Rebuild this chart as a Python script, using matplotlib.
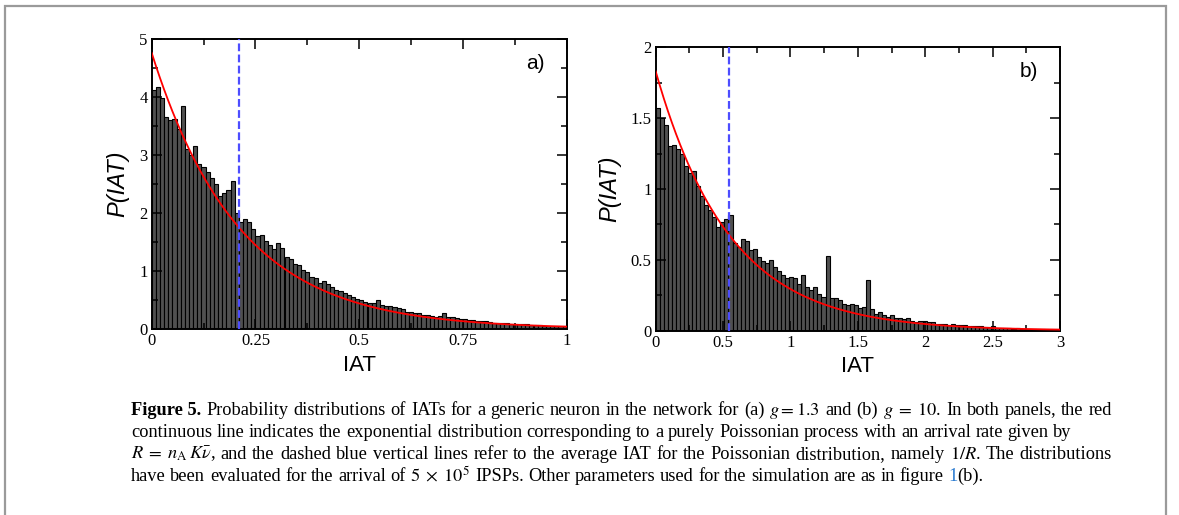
import numpy as np
import matplotlib
matplotlib.use('Agg')
import matplotlib.pyplot as plt
from matplotlib.ticker import MultipleLocator, FuncFormatter
from matplotlib.patches import Rectangle

plt.rcParams['font.family'] = ['Liberation Serif', 'DejaVu Serif']
plt.rcParams['mathtext.fontset'] = 'stix'

# panel a) g = 1.3 : histogram of IATs, bins of 0.01 on [0, 1]
bin_a = 0.01
p_a = [4.12, 4.17, 3.98, 3.65, 3.60, 3.62, 3.45, 3.85, 3.10, 3.00,
       3.15, 2.85, 2.80, 2.70, 2.60, 2.50, 2.30, 2.35, 2.40, 2.55,
       2.00, 1.85, 1.90, 1.85, 1.72, 1.60, 1.62, 1.52, 1.45, 1.38,
       1.48, 1.40, 1.25, 1.20, 1.12, 1.10, 1.02, 0.98, 0.90, 0.88,
       0.80, 0.82, 0.78, 0.72, 0.68, 0.66, 0.62, 0.58, 0.55, 0.52,
       0.50, 0.47, 0.45, 0.44, 0.50, 0.42, 0.40, 0.40, 0.38, 0.36,
       0.34, 0.30, 0.30, 0.28, 0.27, 0.25, 0.24, 0.22, 0.21, 0.22,
       0.27, 0.20, 0.20, 0.19, 0.18, 0.17, 0.16, 0.15, 0.14, 0.13,
       0.14, 0.12, 0.11, 0.11, 0.10, 0.10, 0.09, 0.09, 0.08, 0.08,
       0.09, 0.07, 0.07, 0.07, 0.06, 0.06, 0.06, 0.05, 0.05, 0.05]
rate_a = 4.76   # Poisson arrival rate R, mean IAT 1/R

# panel b) g = 10 : bins of 0.03 on [0, 3]
bin_b = 0.03
p_b = [1.57, 1.50, 1.45, 1.30, 1.31, 1.28, 1.25, 1.16, 1.11, 1.13,
       1.02, 0.95, 0.89, 0.85, 0.80, 0.73, 0.77, 0.79, 0.82, 0.62,
       0.59, 0.65, 0.63, 0.57, 0.58, 0.52, 0.49, 0.48, 0.50, 0.45,
       0.42, 0.39, 0.37, 0.38, 0.37, 0.33, 0.39, 0.31, 0.29, 0.31,
       0.26, 0.24, 0.53, 0.23, 0.23, 0.22, 0.19, 0.18, 0.19, 0.18,
       0.16, 0.17, 0.36, 0.15, 0.12, 0.13, 0.11, 0.10, 0.11, 0.09,
       0.09, 0.08, 0.09, 0.07, 0.06, 0.07, 0.07, 0.06, 0.06, 0.05,
       0.05, 0.05, 0.04, 0.05, 0.04, 0.04, 0.04, 0.035, 0.03, 0.03,
       0.03, 0.025, 0.025, 0.03, 0.02, 0.02, 0.02, 0.02, 0.015, 0.02,
       0.015, 0.015, 0.012, 0.012, 0.01, 0.01, 0.01, 0.01, 0.01, 0.01]
rate_b = 1.83


def fmt(v, pos):
    return '%g' % v


def panel(ax, p, bw, rate, xmax, ymax, xmaj, ymaj, tag):
    edges = np.arange(len(p)) * bw
    ax.bar(edges, p, width=bw, align='edge', color='#505050',
           edgecolor='black', linewidth=0.8, zorder=1)
    x = np.linspace(0, xmax, 400)
    ax.plot(x, rate * np.exp(-rate * x), color='red', lw=1.3, zorder=3)
    ax.axvline(1.0 / rate, color='#4d4dff', lw=1.6, ls=(0, (3.5, 1.5)), zorder=4)
    ax.set_xlim(0, xmax)
    ax.set_ylim(0, ymax)
    ax.xaxis.set_major_locator(MultipleLocator(xmaj))
    ax.yaxis.set_major_locator(MultipleLocator(ymaj))
    ax.xaxis.set_major_formatter(FuncFormatter(fmt))
    ax.yaxis.set_major_formatter(FuncFormatter(fmt))
    ax.tick_params(which='both', direction='in', top=True, right=True,
                   width=1.1, labelsize=12, pad=3)
    ax.tick_params(which='major', length=7)
    ax.tick_params(which='minor', length=4)
    for s in ax.spines.values():
        s.set_linewidth(1.4)
    ax.set_xlabel('IAT', family='Liberation Sans', fontsize=16, labelpad=4)
    ax.set_ylabel('P(IAT)', family='Liberation Sans', fontsize=17,
                  style='italic', labelpad=7)
    ax.text(0.924, 0.915, tag, transform=ax.transAxes, family='Liberation Sans',
            fontsize=15, ha='center', va='center')


W, H = 1179, 515
fig = plt.figure(figsize=(W / 100, H / 100), dpi=100)

ax_a = fig.add_axes([151.7 / W, 1 - 329 / H, 415 / W, 290 / H])
panel(ax_a, p_a, bin_a, rate_a, 1, 5, 0.25, 1, 'a)')
ax_a.xaxis.set_minor_locator(MultipleLocator(0.125))
ax_a.yaxis.set_minor_locator(MultipleLocator(0.5))

ax_b = fig.add_axes([655.7 / W, 1 - 330.7 / H, 404.3 / W, 283.4 / H])
panel(ax_b, p_b, bin_b, rate_b, 3, 2, 0.5, 0.5, 'b)')
ax_b.yaxis.set_minor_locator(MultipleLocator(0.25))
ax_b.xaxis.set_minor_locator(MultipleLocator(0.25))

# frame around figure + caption
fig.add_artist(Rectangle((5 / W, -0.1), (1166 - 5) / W, 1.1 - 5.5 / H,
                         transform=fig.transFigure, fill=False,
                         edgecolor='#9a9a9a', lw=1.6))

cap_size = 13.2
bold = {'weight': 'bold'}
blue = {'color': '#2a7bd1'}

line1 = [[('Figure 5.', bold)], 'Probability', 'distributions', 'of', 'IATs', 'for',
         'a', 'generic', 'neuron', 'in', 'the', 'network', 'for', '(a)',
         '$g=1.3$', 'and', '(b)', '$g\\;=\\;10$.', 'In', 'both', 'panels,',
         'the', 'red']
line2 = ('continuous line indicates the exponential distribution corresponding '
         'to a purely Poissonian process with an arrival rate given by').split()
line3 = ['$R\\;=\\;n_{\\mathrm{A}}\\,K\\bar{\\nu}$,'] + (
    'and the dashed blue vertical lines refer to the average IAT for the '
    'Poissonian distribution, namely').split() + ['$1/R$.', 'The', 'distributions']
line4 = ('have been evaluated for the arrival of').split() + \
    ['$5\\;\\times\\;10^5$'] + ('IPSPs. Other parameters used for the simulation '
                                'are as in figure').split() + [[('1', blue), ('(b).', {})]]


def place_line(tokens, x0, y, x1=None):
    r = fig.canvas.get_renderer()
    items = []
    for tok in tokens:
        segs = tok if isinstance(tok, list) else [(tok, {})]
        ts = [fig.text(0, y, s, fontsize=cap_size, va='baseline', **kw)
              for s, kw in segs]
        ws = [t.get_window_extent(r).width / W for t in ts]
        items.append((ts, ws))
    total = sum(sum(ws) for _, ws in items)
    gap = 0.25 * cap_size * 100 / 72 / W
    if x1 is not None:
        gap = max(gap * 0.6, (x1 - x0 - total) / (len(items) - 1))
    x = x0
    for ts, ws in items:
        for t, w in zip(ts, ws):
            t.set_x(x)
            x += w
        x += gap


fig.canvas.draw()
x0, x1 = 131 / W, 1112 / W
place_line(line1, x0, 1 - 415 / H, x1)
place_line(line2, x0, 1 - 437 / H)
place_line(line3, x0, 1 - 459 / H, x1)
place_line(line4, x0, 1 - 481 / H)

fig.savefig('out.png', dpi=100)
